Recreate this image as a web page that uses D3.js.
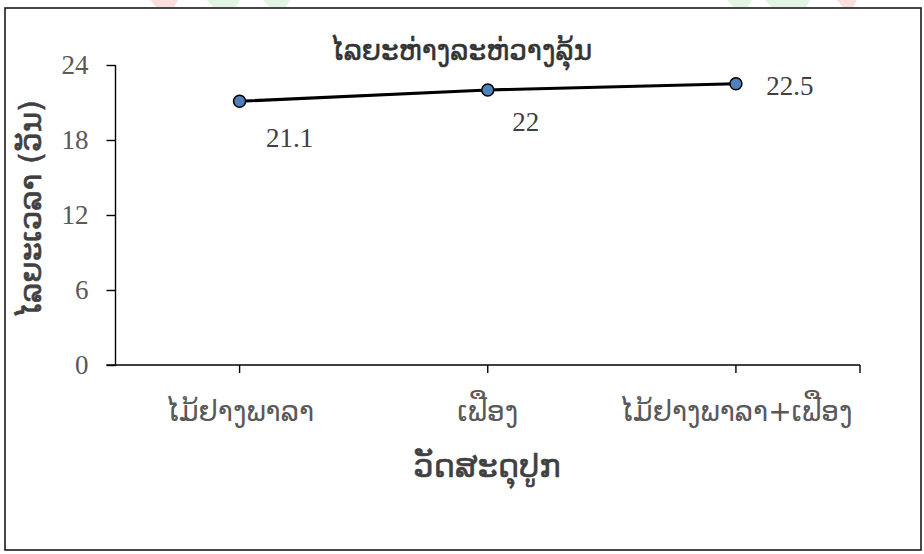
<!DOCTYPE html>
<html>
<head>
<meta charset="utf-8">
<script src="https://cdn.jsdelivr.net/npm/d3@7/dist/d3.min.js"></script>
<style>
  html, body { margin: 0; padding: 0; background: #fff; }
  svg { display: block; }
</style>
</head>
<body>
<svg id="chart" width="924" height="554"></svg>
<script>
// ---- data ----
const categories = ["ໄມ້ຢາງພາລາ", "ເຟືອງ", "ໄມ້ຢາງພາລາ+ເຟືອງ"];
const values = [21.1, 22, 22.5];
const yTicks = [0, 6, 12, 18, 24];
const chartTitle = "ໄລຍະຫ່າງລະຫ່ວາງລຸ້ນ";
const xTitle = "ວັດສະດຸປູກ";
const yTitle = "ໄລຍະເວລາ (ວັນ)";

const svg = d3.select("#chart");
const m = { left: 115.5, right: 860, top: 65, bottom: 365 };
const laoFont = "'DejaVu Sans', 'Noto Sans', sans-serif";
const numFont = "'Liberation Serif', 'Times New Roman', serif";

// faint watermark pieces above the frame
const wm = svg.append("g").attr("opacity", 0.25);
[[150, 178, "#f08080"], [207, 240, "#8fd48f"], [263, 290, "#8fd48f"],
 [727, 752, "#8fd48f"], [765, 810, "#8fd48f"], [837, 857, "#f08080"]].forEach(d => {
  wm.append("path")
    .attr("d", `M${d[0]},0 L${d[1]},0 L${d[1] - 4},7 L${d[0] + 6},7 Z`)
    .attr("fill", d[2]);
});

// outer frame
svg.append("rect")
  .attr("x", 5).attr("y", 8).attr("width", 916).attr("height", 542)
  .attr("fill", "#fff").attr("stroke", "#1a1a1a").attr("stroke-width", 1.6);

// scales
const x = d3.scaleBand().domain(categories).range([m.left, m.right]).paddingInner(0).paddingOuter(0);
const y = d3.scaleLinear().domain([0, 24]).range([m.bottom, m.top]);
const cx = d => x(d) + x.bandwidth() / 2;

// y axis
const yAxis = d3.axisLeft(y).tickValues(yTicks).tickSize(9).tickPadding(18).tickFormat(d3.format("d"));
const gy = svg.append("g").attr("transform", `translate(${m.left},0)`).call(yAxis);
gy.select(".domain").attr("stroke", "#000").attr("stroke-width", 1.4).attr("d", `M0,${m.top}H0V${m.bottom}`);
gy.selectAll(".tick line").attr("stroke", "#000").attr("stroke-width", 1.4);
gy.selectAll(".tick text").attr("font-family", numFont).attr("font-size", 27).attr("fill", "#595959");

// x axis
const gx = svg.append("g").attr("transform", `translate(0,${m.bottom})`);
gx.append("line").attr("x1", m.left - 9).attr("x2", m.right).attr("y1", 0).attr("y2", 0)
  .attr("stroke", "#000").attr("stroke-width", 1.4);
const xTickPos = categories.map(cx).concat([m.right]);
gx.selectAll("line.t").data(xTickPos).join("line").attr("class", "t")
  .attr("x1", d => d).attr("x2", d => d).attr("y1", 0).attr("y2", 8)
  .attr("stroke", "#000").attr("stroke-width", 1.4);
gx.selectAll("text.c").data(categories).join("text").attr("class", "c")
  .attr("x", d => cx(d)).attr("y", 56)
  .attr("text-anchor", "middle")
  .attr("font-family", laoFont).attr("font-size", 28).attr("fill", "#595959")
  .text(d => d);

// line
const line = d3.line().x((d, i) => cx(categories[i])).y(d => y(d));
svg.append("path").datum(values).attr("d", line)
  .attr("fill", "none").attr("stroke", "#000").attr("stroke-width", 3.2);

// markers
svg.selectAll("circle.pt").data(values).join("circle").attr("class", "pt")
  .attr("cx", (d, i) => cx(categories[i])).attr("cy", d => y(d)).attr("r", 6)
  .attr("fill", "#4f81bd").attr("stroke", "#000").attr("stroke-width", 1.5);

// data labels
const labelOffsets = [[50, 46], [38, 41], [54, 11]];
svg.selectAll("text.lbl").data(values).join("text").attr("class", "lbl")
  .attr("x", (d, i) => cx(categories[i]) + labelOffsets[i][0])
  .attr("y", (d, i) => y(d) + labelOffsets[i][1])
  .attr("text-anchor", "middle")
  .attr("font-family", numFont).attr("font-size", 27).attr("fill", "#404040")
  .text(d => d);

// titles
svg.append("text").attr("x", 461).attr("y", 60).attr("text-anchor", "middle")
  .attr("font-family", laoFont).attr("font-size", 28).attr("fill", "#333")
  .attr("stroke", "#333").attr("stroke-width", 0.5)
  .text(chartTitle);
svg.append("text").attr("x", 487).attr("y", 477).attr("text-anchor", "middle")
  .attr("font-family", laoFont).attr("font-size", 32).attr("fill", "#404040")
  .attr("stroke", "#404040").attr("stroke-width", 0.6)
  .text(xTitle);
svg.append("text").attr("transform", "translate(41,209) rotate(-90)").attr("text-anchor", "middle")
  .attr("font-family", laoFont).attr("font-size", 31).attr("fill", "#404040")
  .attr("stroke", "#404040").attr("stroke-width", 0.6)
  .text(yTitle);
</script>
</body>
</html>
